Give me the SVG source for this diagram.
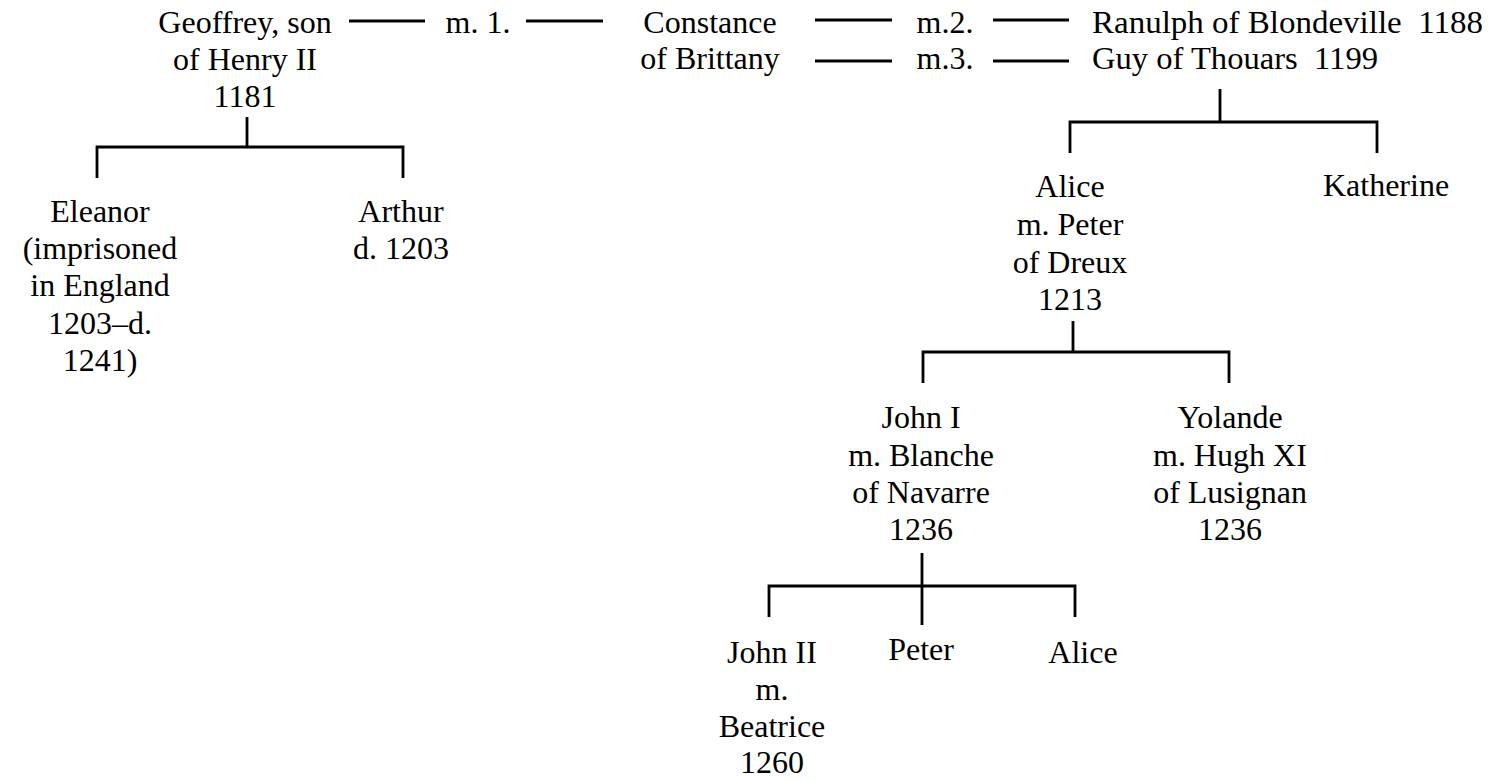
<svg xmlns="http://www.w3.org/2000/svg" width="1492" height="782" viewBox="0 0 1492 782">
<style>
text{font-family:"Liberation Serif","Times New Roman",serif;font-size:32px;fill:#000}
.c{text-anchor:middle}
.ln{stroke:#000;stroke-width:2.8;fill:none}
</style>
<rect width="1492" height="782" fill="#fff"/>
<g id="connectors" class="ln">
<path d="M349 21H425M526 21H603"/>
<path d="M815 20H892M993 20H1069M815 61H892M993 61H1069"/>
<path d="M247 117V147M97 178V147H403V178"/>
<path d="M1220 89V122M1070 153V122H1377V153"/>
<path d="M1073 321V352M923 383V352H1229V383"/>
<path d="M922 553V625M769 617V586H1075V617"/>
</g>
<g id="geoffrey"><text class="c" x="245" y="33">Geoffrey, son</text><text class="c" x="245" y="70">of Henry II</text><text class="c" x="245" y="107">1181</text></g>
<g id="m1"><text class="c" x="478" y="33">m. 1.</text></g>
<g id="constance"><text class="c" x="710" y="33">Constance</text><text class="c" x="710" y="69">of Brittany</text></g>
<g id="m2"><text class="c" x="945" y="33">m.2.</text></g>
<g id="m3"><text class="c" x="945" y="69">m.3.</text></g>
<g id="ranulph"><text x="1092" y="33" textLength="391" lengthAdjust="spacingAndGlyphs">Ranulph of Blondeville&#160; 1188</text></g>
<g id="guy"><text x="1092" y="69" textLength="286" lengthAdjust="spacingAndGlyphs">Guy of Thouars&#160; 1199</text></g>
<g id="eleanor"><text class="c" x="100" y="222">Eleanor</text><text class="c" x="100" y="259">(imprisoned</text><text class="c" x="100" y="296">in England</text><text class="c" x="100" y="334">1203–d.</text><text class="c" x="100" y="371">1241)</text></g>
<g id="arthur"><text class="c" x="401" y="222">Arthur</text><text class="c" x="401" y="259">d. 1203</text></g>
<g id="alice1"><text class="c" x="1070" y="197">Alice</text><text class="c" x="1070" y="235">m. Peter</text><text class="c" x="1070" y="273">of Dreux</text><text class="c" x="1070" y="310">1213</text></g>
<g id="katherine"><text class="c" x="1386" y="196">Katherine</text></g>
<g id="john1"><text class="c" x="921" y="428">John I</text><text class="c" x="921" y="466">m. Blanche</text><text class="c" x="921" y="503">of Navarre</text><text class="c" x="921" y="540">1236</text></g>
<g id="yolande"><text class="c" x="1230" y="428">Yolande</text><text class="c" x="1230" y="466">m. Hugh XI</text><text class="c" x="1230" y="503">of Lusignan</text><text class="c" x="1230" y="540">1236</text></g>
<g id="john2"><text class="c" x="772" y="663">John II</text><text class="c" x="772" y="700">m.</text><text class="c" x="772" y="737">Beatrice</text><text class="c" x="772" y="773">1260</text></g>
<g id="peter"><text class="c" x="921" y="660">Peter</text></g>
<g id="alice2"><text class="c" x="1083" y="663">Alice</text></g>
</svg>
